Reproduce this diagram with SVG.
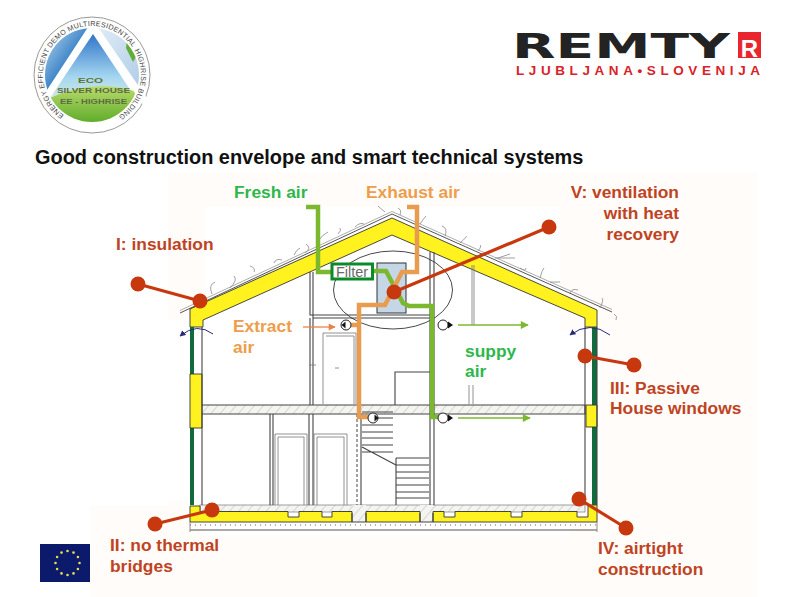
<svg xmlns="http://www.w3.org/2000/svg" xmlns:xlink="http://www.w3.org/1999/xlink" width="799" height="597" viewBox="0 0 799 597">
<style>
text{font-family:"Liberation Sans",Arial,sans-serif;font-weight:bold}
.lab{font-size:17.4px;fill:#c0431f}
.g{font-size:17.4px;fill:#2eb84c}
.o{font-size:17.4px;fill:#ee9d4b}
.ring{font-size:7.2px;fill:#444;font-weight:normal;letter-spacing:.23px}
.wall{fill:none;stroke:#444;stroke-width:1.1}
.thin{fill:none;stroke:#777;stroke-width:.8}
.ins{fill:#fff21f;stroke:#333;stroke-width:.9}
.pipeG{fill:none;stroke:#7cb82f;stroke-width:4.5}
.pipeO{fill:none;stroke:#e89c50;stroke-width:4.5}
.win{fill:#126b3c}
.pin{stroke:#c8380f;stroke-width:3.2;fill:none}
.dot{fill:#c8380f}
.fan{fill:#fff;stroke:#222;stroke-width:1}
.curl{fill:none;stroke:#2a2a7a;stroke-width:1}
.moss{fill:none;stroke:#888;stroke-width:.8}
.star{fill:#e8dc50}
</style>
<defs>
<pattern id="hatch" width="7" height="7" patternUnits="userSpaceOnUse" patternTransform="rotate(40)"><rect width="7" height="7" fill="#f4f4f0"/><line x1="0" y1="0" x2="0" y2="7" stroke="#aaa" stroke-width=".8"/></pattern>
<marker id="aG" viewBox="0 0 10 10" refX="9" refY="5" markerWidth="9" markerHeight="8" markerUnits="userSpaceOnUse" orient="auto"><path d="M0 0L10 5L0 10Z" fill="#7cb82f"/></marker>
<marker id="aO" viewBox="0 0 10 10" refX="9" refY="5" markerWidth="8" markerHeight="7" markerUnits="userSpaceOnUse" orient="auto"><path d="M0 0L10 5L0 10Z" fill="#e8824a"/></marker>
<marker id="aB" viewBox="0 0 10 10" refX="9" refY="5" markerWidth="6" markerHeight="6" markerUnits="userSpaceOnUse" orient="auto"><path d="M0 0L10 5L0 10Z" fill="#2a2a7a"/></marker>
<linearGradient id="sky" x1="0" y1="0" x2="0" y2="1"><stop offset="0" stop-color="#2f74c8"/><stop offset=".55" stop-color="#a5d6f0"/><stop offset="1" stop-color="#eef6dc"/></linearGradient>
<linearGradient id="grass" x1="0" y1="0" x2="0" y2="1"><stop offset="0" stop-color="#b7dc6a"/><stop offset="1" stop-color="#5aa826"/></linearGradient>
<linearGradient id="solar" x1="0" y1="0" x2="1" y2="1"><stop offset="0" stop-color="#cfe6f6"/><stop offset=".5" stop-color="#3f86c8"/><stop offset="1" stop-color="#1d4a8a"/></linearGradient>
<linearGradient id="water" x1="0" y1="0" x2="1" y2="1"><stop offset="0" stop-color="#e4eef8"/><stop offset="1" stop-color="#a8c8e4"/></linearGradient>
<clipPath id="disc"><circle cx="92" cy="75" r="47"/></clipPath>
<path id="ring" d="M63.900 115.100A49 49 0 1 1 120.100 115.100" fill="none"/>
</defs>

<g id="background">
<rect width="799" height="597" fill="#fff"/>
<path d="M168 172H758V597H90V505H168Z" fill="#fffcfa"/>
<path d="M205 207H560V330H600V500H570V535H205V500H168V320H205Z" fill="#fff"/>
</g>

<g id="logo-eco">
<circle cx="92" cy="75" r="58" fill="#fff" stroke="#999" stroke-width="1"/>
<g clip-path="url(#disc)">
<path d="M40 25H93L45 100H40Z" fill="url(#solar)"/>
<path d="M93 25H145V100H140Z" fill="url(#water)"/>
<path d="M128 32L140 50L133 62L126 48Z" fill="#5fae35"/>
<path d="M93 34L145 112H40Z" fill="url(#sky)"/>
<path d="M50 98Q92 78 138 92L145 125H40Z" fill="url(#grass)"/>
</g>
<path d="M93 26L146 103M93 26L46 98" fill="none" stroke="#fff" stroke-width="7"/>
<text x="78" y="83" font-size="8" fill="#5f7431" textLength="25" lengthAdjust="spacingAndGlyphs">ECO</text>
<text x="57" y="93" font-size="7.500" fill="#5e6a42" textLength="73" lengthAdjust="spacingAndGlyphs">SILVER HOUSE</text>
<text x="60" y="104" font-size="7.500" fill="#5e6a42" textLength="67" lengthAdjust="spacingAndGlyphs">EE - HIGHRISE</text>
<text class="ring"><textPath xlink:href="#ring" href="#ring">ENERGY EFFICIENT</textPath></text>
<text class="ring"><textPath xlink:href="#ring" href="#ring" startOffset="75">DEMO MULTIRESIDENTIAL</textPath></text>
<text class="ring"><textPath xlink:href="#ring" href="#ring" startOffset="175">HIGHRISE BUILDING</textPath></text>
</g>

<g id="logo-remty">
<text x="512" y="58" font-size="34" fill="#232323" textLength="218" lengthAdjust="spacingAndGlyphs" style="font-family:'DejaVu Sans',sans-serif">REMTY</text>
<rect x="738" y="32" width="23" height="26" fill="#e8262d"/>
<text x="749.500" y="57" font-size="24" fill="#fff" text-anchor="middle">R</text>
<text x="516" y="75" font-size="13.500" fill="#d8232a" textLength="244">LJUBLJANA•SLOVENIJA</text>
</g>

<g id="title"><text x="35" y="164" font-size="19.950" fill="#111">Good construction envelope and smart technical systems</text></g>

<g id="house">
<rect x="200" y="405" width="385" height="9" fill="url(#hatch)" stroke="#444" stroke-width="1"/>
<rect x="200" y="505" width="385" height="7" fill="url(#hatch)" stroke="#888" stroke-width=".8"/>
<rect x="352" y="505" width="14" height="17" fill="url(#hatch)"/>
<rect x="420" y="505" width="13" height="17" fill="url(#hatch)"/>
<path class="ins" d="M190 522V506H200V511.500H288V517H299V511.500H322V517H332V511.500H352V522Z"/>
<path class="ins" d="M366 522V511.500H420V522Z"/>
<path class="ins" d="M433 522V511.500H444V517H455V511.500H511V517H522V511.500H577V517H588V505H597V522Z"/>
<path class="wall" d="M352 522H366M420 522H433M352 513V522M366 513V522M420 513V522M433 513V522"/>
<path d="M190 530H597" stroke="#555" stroke-width="1"/>
<path d="M190 525H597" stroke="#999" stroke-width="1.500" stroke-dasharray="1 4"/>
<path class="thin" d="M190 522V532M597 522V532"/>
<path d="M180 313L392 214L612 312" fill="none" stroke="#555" stroke-width="1"/>
<path d="M180 310.500L392 211.500L612 309.500" fill="none" stroke="#999" stroke-width=".8"/>
<path class="ins" d="M190 327V309L392 218L597 310V327H585V318L392 235L203 320V327Z"/>
<rect class="win" x="190" y="327" width="4" height="178"/>
<rect class="win" x="592" y="327" width="5" height="178"/>
<path class="ins" d="M190 374H202V428H190Z"/>
<path class="ins" d="M586 405H597V427H586Z"/>
<path class="wall" d="M202 327V505M585 327V505M597 327V505"/>
<path class="wall" d="M310 272V315H430M313 272V405M310 318V405M313 318H430M430 252V505M434 252V505"/>
<path class="thin" d="M472 265V325M474 265V325"/>
<path class="thin" d="M323 333H356V404M323 333V404M326 336H354V404"/>
<path class="thin" d="M335 368H339M469 385V404M473 385V404M309 365H316"/>
<path class="wall" d="M270 414V505M273 414V505M309 414V505M313 414V505"/>
<path class="thin" d="M275 505V434H307V505M278 505V437H304V505M314 505V434H347V505M317 505V437H344V505"/>
<path d="M357 414V505" stroke="#444" stroke-width="1" stroke-dasharray="3 2" fill="none"/>
<path class="wall" d="M361 414V505"/>
<path class="wall" d="M362 412H393M362 418H393M362 425H393M362 432H393M362 438H393M362 445H393M362 452H393M362 447L396 465"/>
<path class="wall" d="M396 458H429M396 465H429M396 472H429M396 478H429M396 485H429M396 492H429M396 498H429M396 505V458M395 405V372H430"/>
<path class="moss" d="M212 294Q208 285 215 282M230 288Q238 280 234 276M254 272Q256 268 250 266M274 263Q276 258 282 260M294 255Q296 250 300 248M305 253Q312 248 306 244M319 240Q322 235 328 232M338 234Q342 230 340 228M355 227Q360 222 364 224M385 212Q380 208 378 206M400 215Q402 210 398 208M420 224Q424 218 426 216M445 236Q448 228 442 226M460 243Q468 236 466 236M478 251Q482 246 480 245M495 258H515M498 258L510 254M520 268Q526 272 526 268M540 278Q542 270 544 268M550 282H560M570 293Q572 288 578 290M600 308Q604 300 602 298M616 320Q618 316 614 314"/>
<path class="curl" d="M213 334Q197 322 180 336" marker-end="url(#aB)"/>
<path class="curl" d="M610 335Q590 320 570 335" marker-end="url(#aB)"/>
</g>

<g id="connectors">
<ellipse cx="393" cy="290" rx="59.500" ry="39" fill="none" stroke="#333" stroke-width=".9"/>
<rect x="377" y="263" width="29" height="50" fill="#c5d6e6" stroke="#333" stroke-width="1"/>
<path class="pipeG" d="M306 207H318V272H332M373 271H386L403 303L409 306H432V417H441"/>
<path class="pipeO" d="M407 207H417V272H402L385 305H359V417H369M350 325H359"/>
<path d="M458 325H528" stroke="#7cb82f" stroke-width="1.600" marker-end="url(#aG)"/>
<path d="M458 418H530" stroke="#7cb82f" stroke-width="1.600" marker-end="url(#aG)"/>
<path d="M303 327H335" stroke="#e8824a" stroke-width="1.300" marker-end="url(#aO)"/>
</g>

<g id="filter"><rect x="332" y="264" width="40.500" height="15" fill="#fff" stroke="#0a8a2a" stroke-width="3"/><text x="352" y="276.500" font-size="14.500" text-anchor="middle" fill="#6a6a6a" style="font-weight:normal">Filter</text></g>

<g id="fans">
<g id="fan-1"><circle class="fan" cx="346" cy="325" r="5"/><path d="M341.500 325L345.500 321.500V328.500Z" fill="#111"/></g>
<g id="fan-2"><circle class="fan" cx="373" cy="418" r="5"/><path d="M378.500 418L374.500 414.500V421.500Z" fill="#111"/></g>
<g id="fan-3"><circle class="fan" cx="443" cy="325" r="5"/><path d="M453 325L448 321.500V328.500Z" fill="#111"/></g>
<g id="fan-4"><circle class="fan" cx="443" cy="418" r="5"/><path d="M453 418L448 414.500V421.500Z" fill="#111"/></g>
</g>

<g id="pins">
<g id="pin-1"><path class="pin" d="M138 284L200 301"/><circle class="dot" cx="138" cy="284" r="7.500"/><circle class="dot" cx="200" cy="301" r="7.500"/></g>
<g id="pin-2"><path class="pin" d="M155 524L212 510"/><circle class="dot" cx="155" cy="524" r="7.500"/><circle class="dot" cx="212" cy="510" r="7.500"/></g>
<g id="pin-3"><path class="pin" d="M585 356L634 365"/><circle class="dot" cx="585" cy="356" r="7.500"/><circle class="dot" cx="634" cy="365" r="7.500"/></g>
<g id="pin-4"><path class="pin" d="M579 499L626 528"/><circle class="dot" cx="579" cy="499" r="7.500"/><circle class="dot" cx="626" cy="528" r="7.500"/></g>
<g id="pin-5"><path class="pin" d="M549 227L394 292"/><circle class="dot" cx="549" cy="227" r="7.500"/><circle class="dot" cx="394" cy="292" r="7.500"/></g>
</g>

<g id="labels">
<text class="g" x="234" y="198">Fresh air</text>
<text class="o" x="366" y="198">Exhaust air</text>
<text class="o" x="233" y="332">Extract</text>
<text class="o" x="233" y="353">air</text>
<text class="g" x="465" y="357">suppy</text>
<text class="g" x="465" y="377">air</text>
<text class="lab" x="116" y="250">I: insulation</text>
<text class="lab" x="679" y="198" text-anchor="end">V: ventilation</text>
<text class="lab" x="679" y="219" text-anchor="end">with heat</text>
<text class="lab" x="679" y="240" text-anchor="end">recovery</text>
<text class="lab" x="610" y="394">III: Passive</text>
<text class="lab" x="610" y="414">House windows</text>
<text class="lab" x="110" y="551">II: no thermal</text>
<text class="lab" x="110" y="572">bridges</text>
<text class="lab" x="598" y="554">IV: airtight</text>
<text class="lab" x="598" y="575">construction</text>
</g>

<g id="eu-flag">
<rect x="40" y="544" width="50" height="38" fill="#0b1a6b"/>
<g class="star"><circle cx="67.500" cy="551" r="1.300"/><circle cx="73.500" cy="552.600" r="1.300"/><circle cx="77.900" cy="557" r="1.300"/><circle cx="79.500" cy="563" r="1.300"/><circle cx="77.900" cy="569" r="1.300"/><circle cx="73.500" cy="573.400" r="1.300"/><circle cx="67.500" cy="575" r="1.300"/><circle cx="61.500" cy="573.400" r="1.300"/><circle cx="57.100" cy="569" r="1.300"/><circle cx="55.500" cy="563" r="1.300"/><circle cx="57.100" cy="557" r="1.300"/><circle cx="61.500" cy="552.600" r="1.300"/></g>
</g>
</svg>
